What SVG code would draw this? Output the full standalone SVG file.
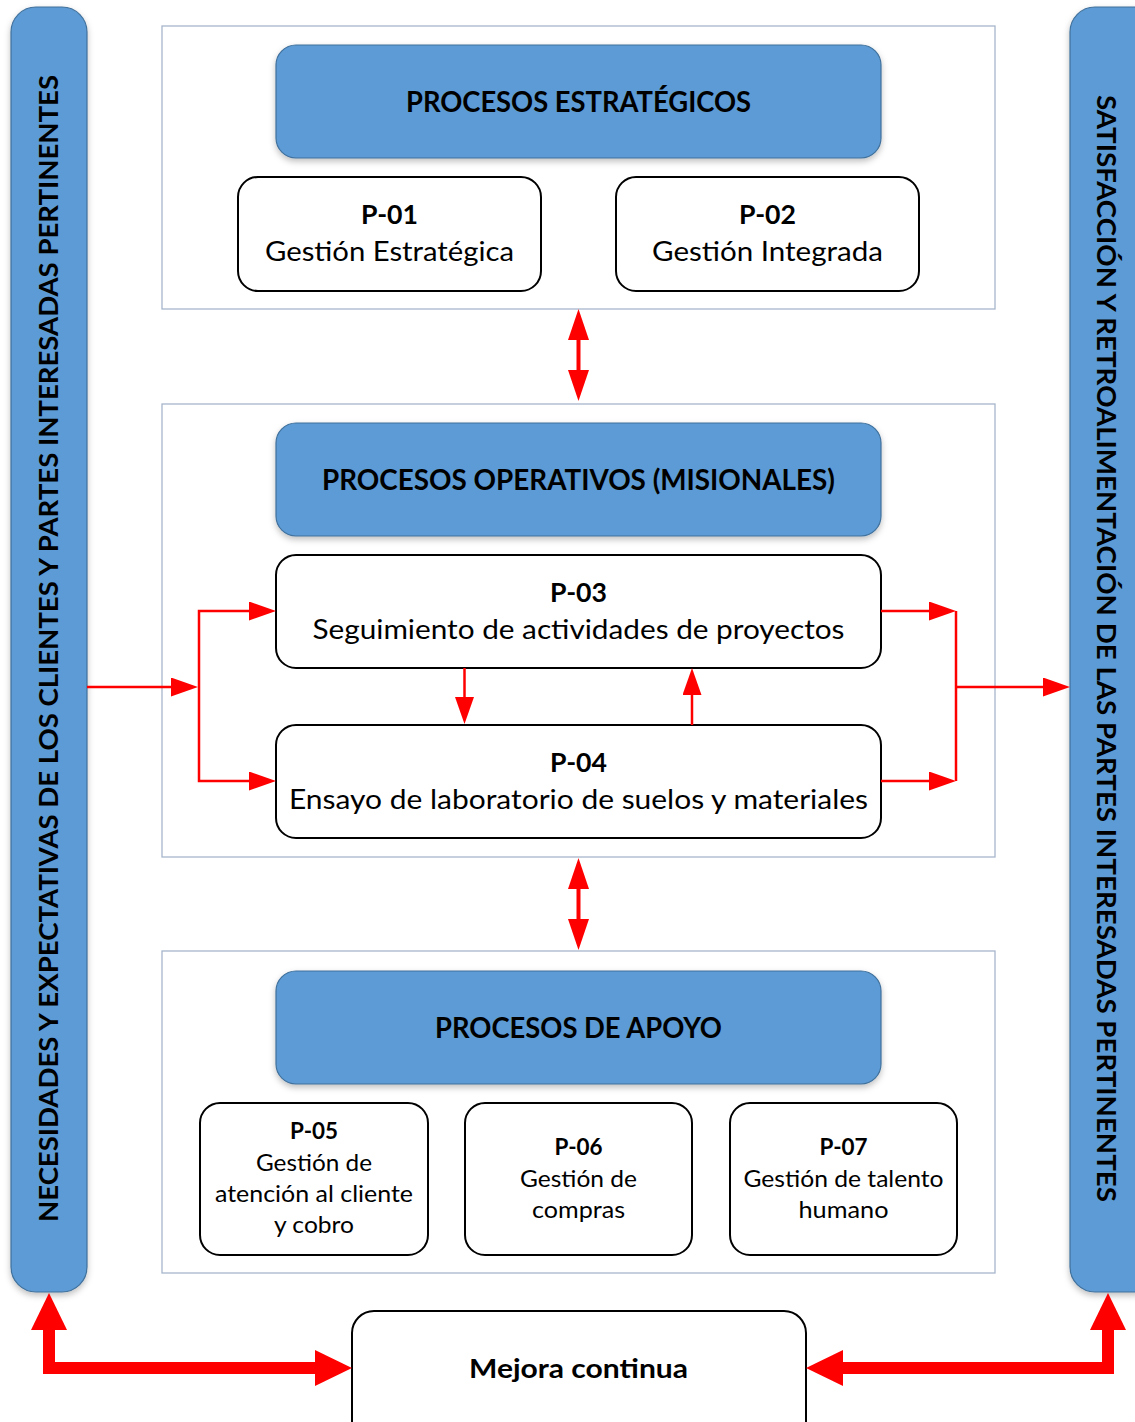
<svg xmlns="http://www.w3.org/2000/svg" width="1135" height="1422" viewBox="0 0 1135 1422">
  <style>
    .bg { fill: #ffffff; }
    .panel { fill: #ffffff; stroke: #a6b5cc; stroke-width: 1.3; }
    .band { fill: #5b9bd5; stroke: #41719c; stroke-width: 1.2; }
    .proc { fill: #ffffff; stroke: #000000; stroke-width: 2; }
    .t { font-family: Lato, "Liberation Sans", sans-serif; fill: #000000; text-anchor: middle; }
    .title { font-size: 28px; font-weight: bold; }
    .code { font-size: 27px; font-weight: bold; }
    .body { font-size: 27px; }
    .code-s { font-size: 23px; font-weight: bold; }
    .body-s { font-size: 23px; }
    .side { font-size: 27px; font-weight: bold; }
    .link { fill: none; stroke: #ff0000; stroke-width: 2.5; stroke-linejoin: miter; }
    .link-v { fill: none; stroke: #ff0000; stroke-width: 4; }
    .link-bold { fill: none; stroke: #ff0000; stroke-width: 12; stroke-linejoin: miter; }
  </style>
  <defs>
    <filter id="shadow" x="-10%" y="-10%" width="120%" height="130%">
      <feDropShadow dx="0" dy="3" stdDeviation="3" flood-color="#000000" flood-opacity="0.25"/>
    </filter>
    <!-- thin connector head: 27 long, 19 wide, tip 10 beyond the path end -->
    <marker id="head" markerUnits="userSpaceOnUse" viewBox="0 0 27 19" markerWidth="27" markerHeight="19" refX="17" refY="9.5" orient="auto-start-reverse">
      <path d="M0,0 L27,9.5 L0,19 z" fill="#ff0000"/>
    </marker>
    <!-- head for the vertical two-way links between process groups -->
    <marker id="headV" markerUnits="userSpaceOnUse" viewBox="0 0 31 21" markerWidth="31" markerHeight="21" refX="21" refY="10.5" orient="auto-start-reverse">
      <path d="M0,0 L31,10.5 L0,21 z" fill="#ff0000"/>
    </marker>
    <!-- heavy head for the continuous-improvement loop -->
    <marker id="headBold" markerUnits="userSpaceOnUse" viewBox="0 0 37 36" markerWidth="37" markerHeight="36" refX="10" refY="18" orient="auto-start-reverse">
      <path d="M0,0 L37,18 L0,36 z" fill="#ff0000"/>
    </marker>
  </defs>

  <rect class="bg" x="0" y="0" width="1135" height="1422"/>

  <!-- side bands: inputs (left) and outputs (right) -->
  <g id="needs">
    <rect class="band" x="11" y="7" width="76" height="1285" rx="25" filter="url(#shadow)"/>
    <text class="t side" transform="translate(58,648.5) rotate(-90)" textLength="1147" lengthAdjust="spacingAndGlyphs">NECESIDADES Y EXPECTATIVAS DE LOS CLIENTES Y PARTES INTERESADAS PERTINENTES</text>
  </g>
  <g id="satisfaction">
    <rect class="band" x="1070" y="7" width="90" height="1285" rx="25" filter="url(#shadow)"/>
    <text class="t side" transform="translate(1097,648.5) rotate(90)" textLength="1107" lengthAdjust="spacingAndGlyphs">SATISFACCIÓN Y RETROALIMENTACIÓN DE LAS PARTES INTERESADAS PERTINENTES</text>
  </g>

  <!-- strategic processes -->
  <g id="strategic">
    <rect class="panel" x="162" y="26" width="833" height="283"/>
    <rect class="band" x="276" y="45" width="605" height="113" rx="20" filter="url(#shadow)"/>
    <text class="t title" x="578.5" y="112" textLength="345" lengthAdjust="spacingAndGlyphs">PROCESOS ESTRATÉGICOS</text>
  </g>
  <g id="p01">
    <rect class="proc" x="238" y="177" width="303" height="114" rx="20"/>
    <text class="t code" x="389.5" y="224" textLength="57" lengthAdjust="spacingAndGlyphs">P-01</text>
    <text class="t body" x="389.5" y="261" textLength="249" lengthAdjust="spacingAndGlyphs">Gestión Estratégica</text>
  </g>
  <g id="p02">
    <rect class="proc" x="616" y="177" width="303" height="114" rx="20"/>
    <text class="t code" x="767.5" y="224" textLength="57" lengthAdjust="spacingAndGlyphs">P-02</text>
    <text class="t body" x="767.5" y="261" textLength="231" lengthAdjust="spacingAndGlyphs">Gestión Integrada</text>
  </g>

  <!-- operative (missional) processes -->
  <g id="operative">
    <rect class="panel" x="162" y="404" width="833" height="453"/>
    <rect class="band" x="276" y="423" width="605" height="113" rx="20" filter="url(#shadow)"/>
    <text class="t title" x="578.5" y="490" textLength="513" lengthAdjust="spacingAndGlyphs">PROCESOS OPERATIVOS (MISIONALES)</text>
  </g>
  <g id="p03">
    <rect class="proc" x="276" y="555" width="605" height="113" rx="20"/>
    <text class="t code" x="578.5" y="602" textLength="57" lengthAdjust="spacingAndGlyphs">P-03</text>
    <text class="t body" x="578.5" y="639" textLength="532" lengthAdjust="spacingAndGlyphs">Seguimiento de actividades de proyectos</text>
  </g>
  <g id="p04">
    <rect class="proc" x="276" y="725" width="605" height="113" rx="20"/>
    <text class="t code" x="578.5" y="772" textLength="57" lengthAdjust="spacingAndGlyphs">P-04</text>
    <text class="t body" x="578.5" y="809" textLength="579" lengthAdjust="spacingAndGlyphs">Ensayo de laboratorio de suelos y materiales</text>
  </g>

  <!-- support processes -->
  <g id="support">
    <rect class="panel" x="162" y="951" width="833" height="322"/>
    <rect class="band" x="276" y="971" width="605" height="113" rx="20" filter="url(#shadow)"/>
    <text class="t title" x="578.5" y="1038" textLength="287" lengthAdjust="spacingAndGlyphs">PROCESOS DE APOYO</text>
  </g>
  <g id="p05">
    <rect class="proc" x="200" y="1103" width="228" height="152" rx="20"/>
    <text class="t code-s" x="314" y="1139" textLength="48" lengthAdjust="spacingAndGlyphs">P-05</text>
    <text class="t body-s" x="314" y="1171" textLength="116" lengthAdjust="spacingAndGlyphs">Gestión de</text>
    <text class="t body-s" x="314" y="1202" textLength="198" lengthAdjust="spacingAndGlyphs">atención al cliente</text>
    <text class="t body-s" x="314" y="1233" textLength="80" lengthAdjust="spacingAndGlyphs">y cobro</text>
  </g>
  <g id="p06">
    <rect class="proc" x="465" y="1103" width="227" height="152" rx="20"/>
    <text class="t code-s" x="578.5" y="1155" textLength="48" lengthAdjust="spacingAndGlyphs">P-06</text>
    <text class="t body-s" x="578.5" y="1187" textLength="117" lengthAdjust="spacingAndGlyphs">Gestión de</text>
    <text class="t body-s" x="578.5" y="1218" textLength="93" lengthAdjust="spacingAndGlyphs">compras</text>
  </g>
  <g id="p07">
    <rect class="proc" x="730" y="1103" width="227" height="152" rx="20"/>
    <text class="t code-s" x="843.5" y="1155" textLength="48" lengthAdjust="spacingAndGlyphs">P-07</text>
    <text class="t body-s" x="843.5" y="1187" textLength="200" lengthAdjust="spacingAndGlyphs">Gestión de talento</text>
    <text class="t body-s" x="843.5" y="1218" textLength="90" lengthAdjust="spacingAndGlyphs">humano</text>
  </g>

  <!-- continuous improvement -->
  <g id="improvement">
    <rect class="proc" x="352" y="1311" width="454" height="140" rx="22"/>
    <text class="t code" x="578.5" y="1378" textLength="219" lengthAdjust="spacingAndGlyphs">Mejora continua</text>
  </g>

  <!-- connectors -->
  <g id="connectors">
    <!-- strategic <-> operative <-> support -->
    <path class="link-v" d="M578.5,319 V391" marker-start="url(#headV)" marker-end="url(#headV)"/>
    <path class="link-v" d="M578.5,868 V940" marker-start="url(#headV)" marker-end="url(#headV)"/>
    <!-- needs into P-03 / P-04 -->
    <path class="link" d="M87,687 H188" marker-end="url(#head)"/>
    <path class="link" d="M266,611 H199 V781 H266" marker-start="url(#head)" marker-end="url(#head)"/>
    <!-- P-03 / P-04 exchange -->
    <path class="link" d="M464.5,668 V714" marker-end="url(#head)"/>
    <path class="link" d="M692,725 V678" marker-end="url(#head)"/>
    <!-- P-03 / P-04 out to satisfaction -->
    <path class="link" d="M881,611 H946" marker-end="url(#head)"/>
    <path class="link" d="M881,781 H946" marker-end="url(#head)"/>
    <path class="link" d="M956,611 V781"/>
    <path class="link" d="M956,687 H1060" marker-end="url(#head)"/>
    <!-- improvement loop to both bands -->
    <path class="link-bold" d="M49,1320 V1368 H325" marker-start="url(#headBold)" marker-end="url(#headBold)"/>
    <path class="link-bold" d="M1108,1320 V1368 H833" marker-start="url(#headBold)" marker-end="url(#headBold)"/>
  </g>
</svg>
